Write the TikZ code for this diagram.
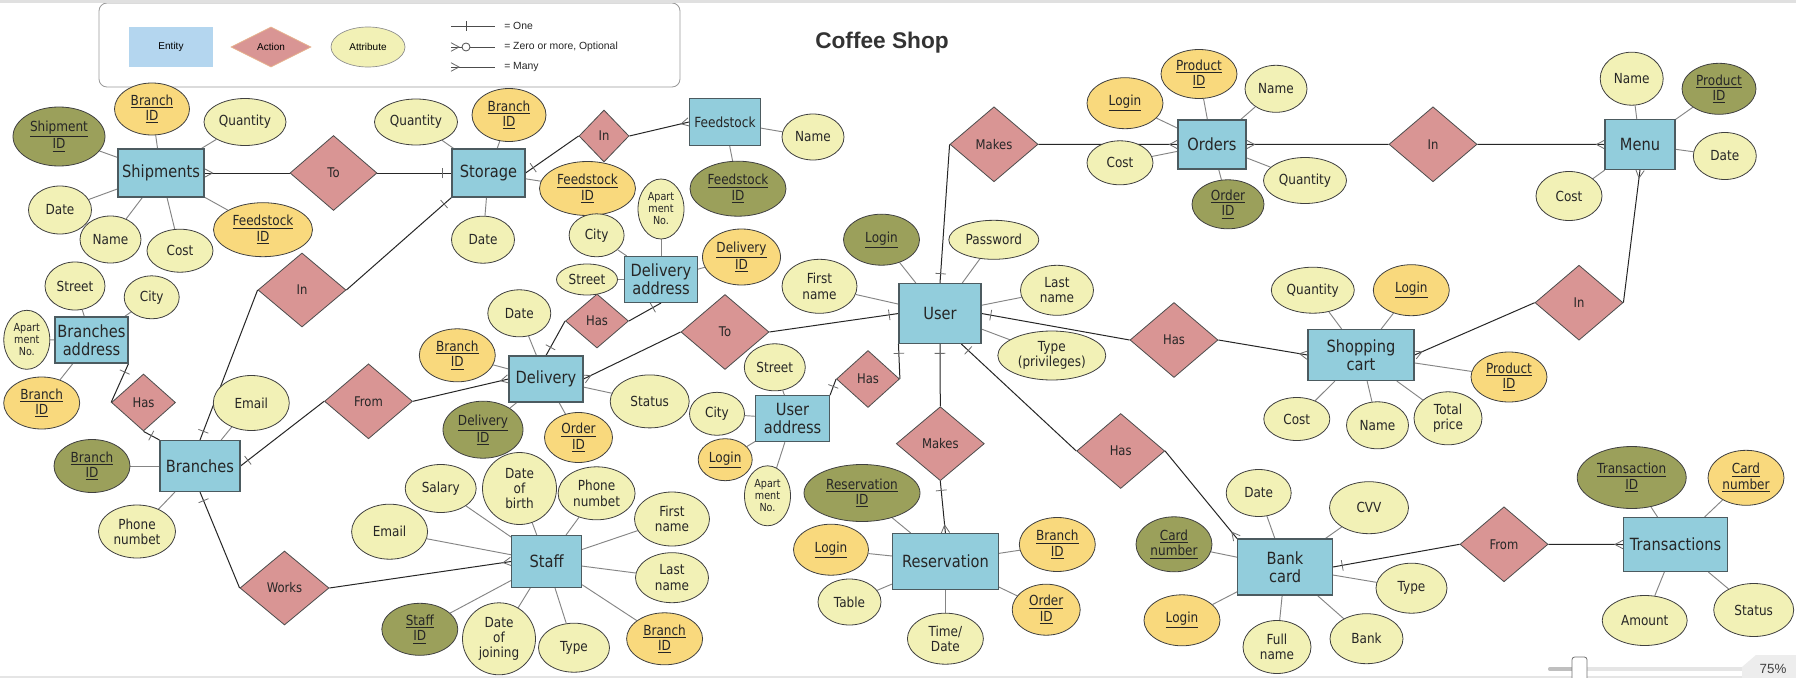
\documentclass[tikz,border=0pt]{standalone}
\usepackage{fontspec}
\setmainfont{DejaVu Sans}[FakeStretch=0.87]
\newfontfamily\arialfont{Liberation Sans}
\usepackage{tikz}
\usetikzlibrary{shapes.geometric,arrows.meta,positioning,calc,backgrounds,decorations.markings}
\definecolor{entityblue}{HTML}{92CDDC}
\definecolor{legendblue}{HTML}{B4D6EF}
\definecolor{actionred}{HTML}{D99594}
\definecolor{attrcream}{HTML}{F2F1B6}
\definecolor{keygold}{HTML}{F9D97D}
\definecolor{pkolive}{HTML}{9BA05B}
\definecolor{bordergrey}{HTML}{4C5B60}
\definecolor{linegrey}{HTML}{858585}
\definecolor{markgrey}{HTML}{6A6A6A}
\definecolor{titlegrey}{HTML}{333333}
\newcommand{\keyline}[1]{\underline{#1}}

\begin{document}
\begin{tikzpicture}[x=0.75pt, y=-0.75pt,
    sz/.style 2 args={minimum width=#1*0.75pt, minimum height=#2*0.75pt},
    entity/.style={rectangle, draw=bordergrey, line width=0.8pt, fill=entityblue, align=center,
                   inner sep=0pt, font=\fontsize{12.6}{13.5}\selectfont, text=black!85},
    action/.style={diamond, draw=black!70, line width=0.6pt, fill=actionred, inner sep=0pt,
                   font=\fontsize{10}{11.5}\selectfont, text=black!85},
    attr/.style={ellipse, draw=black!75, line width=0.6pt, fill=attrcream, align=center,
                 inner sep=0pt, font=\fontsize{10.4}{11.5}\selectfont, text=black!85},
    fkey/.style={attr, fill=keygold},
    pkey/.style={attr, fill=pkolive},
    aptfont/.style={font=\fontsize{8.3}{9}\selectfont},
    relline/.style={draw=black!85, line width=0.75pt},
    attrline/.style={draw=linegrey, line width=0.7pt},
    tipline/.style={draw=markgrey, line width=0.6pt},
    tick start/.style={postaction={decorate, decoration={markings,
        mark=at position 0 with {\draw[tipline] (7pt,-4pt) -- (7pt,4pt);}}}},
    tick end/.style={postaction={decorate, decoration={markings,
        mark=at position 1 with {\draw[tipline] (-7pt,-4pt) -- (-7pt,4pt);}}}},
    crow start/.style={postaction={decorate, decoration={markings,
        mark=at position 0 with {\draw[tipline] (0,-3.2pt) -- (6pt,0) -- (0,3.2pt);}}}},
    crow end/.style={postaction={decorate, decoration={markings,
        mark=at position 1 with {\draw[tipline] (0,-3.2pt) -- (-6pt,0) -- (0,3.2pt);}}}},
    legendtext/.style={font=\arialfont\fontsize{7.8}{9}\selectfont, text=black!85, anchor=west, inner sep=0pt},
    legendline/.style={draw=black!70, line width=0.6pt}
]
    \useasboundingbox (0,0) rectangle (1796,678);

    % legend and title
    \draw[draw=black!40, line width=0.6pt, rounded corners=6pt] (99,3) rectangle (680,87);
    \node[fill=legendblue, sz={84}{40}, inner sep=0pt, font=\arialfont\fontsize{7.5}{9}\selectfont] (keyEntity) at (171,47) {Entity};
    \node[diamond, fill=actionred, draw=actionred!60!keygold, line width=0.6pt, sz={80}{40}, inner sep=0pt, font=\arialfont\fontsize{7.5}{9}\selectfont] (keyAction) at (271,47) {Action};
    \node[ellipse, fill=attrcream, draw=black!45, line width=0.5pt, sz={74}{40}, inner sep=0pt, font=\arialfont\fontsize{7.5}{9}\selectfont] (keyAttr) at (368,47) {Attribute};
    \coordinate (oneA) at (451,26);
    \coordinate (oneB) at (495,26);
    \coordinate (zeroA) at (451,47);
    \coordinate (zeroB) at (495,47);
    \coordinate (manyA) at (451,67);
    \coordinate (manyB) at (495,67);
    \draw[legendline] (oneA) -- (oneB);
    \draw[legendline] (466,21) -- (466,31);
    \draw[legendline, crow start] (zeroA) -- (zeroB);
    \draw[legendline, fill=white] (466,47) circle (3pt);
    \draw[legendline, crow start] (manyA) -- (manyB);
    \node[legendtext] (lblOne) at (504,26) {= One};
    \node[legendtext] (lblZero) at (504,47) {= Zero or more, Optional};
    \node[legendtext] (lblMany) at (504,67) {= Many};
    \node[font=\arialfont\bfseries\fontsize{17}{20}\selectfont, text=titlegrey] (title) at (882,43) {Coffee Shop};

    % entities
    \node[entity, sz={86}{48}] (shipments) at (161,173) {Shipments};
    \node[entity, sz={73}{48}] (storage) at (488.5,173) {Storage};
    \node[entity, sz={71}{47}, font=\fontsize{10.5}{12}\selectfont] (feedstock) at (725,122) {Feedstock};
    \node[entity, sz={73}{46}] (deladdr) at (661,279.5) {Delivery\\address};
    \node[entity, sz={74}{46}] (delivery) at (546,379) {Delivery};
    \node[entity, sz={73}{46}] (braddr) at (91.5,340) {Branches\\address};
    \node[entity, sz={80}{51}] (branches) at (200,466) {Branches};
    \node[entity, sz={70}{52}] (staff) at (546.6,561.5) {Staff};
    \node[entity, sz={74}{46}] (uaddr) at (792.5,418.7) {User\\address};
    \node[entity, sz={82}{60}] (user) at (940,313.5) {User};
    \node[entity, sz={68}{49}] (orders) at (1212,144.5) {Orders};
    \node[entity, sz={70}{50}] (menu) at (1640,144.5) {Menu};
    \node[entity, sz={106}{51}] (cart) at (1361,355) {Shopping\\cart};
    \node[entity, sz={106}{56}] (reservation) at (945.4,561.5) {Reservation};
    \node[entity, sz={95}{56}] (bank) at (1285,567) {Bank\\card};
    \node[entity, sz={104}{54}] (trans) at (1675.5,544.5) {Transactions};

    % actions
    \node[action, sz={87}{75}] (toA) at (333.5,173) {To};
    \node[action, sz={50}{52}] (inA) at (604,136) {In};
    \node[action, sz={88}{74}] (inB) at (302,290) {In};
    \node[action, sz={64}{57}] (hasA) at (143.5,402.5) {Has};
    \node[action, sz={88}{75}] (fromA) at (368.5,401.3) {From};
    \node[action, sz={89}{74}] (works) at (284.5,588) {Works};
    \node[action, sz={63}{54}] (hasB) at (597,321) {Has};
    \node[action, sz={88}{75}] (toB) at (725,332) {To};
    \node[action, sz={63}{57}] (hasC) at (868,379) {Has};
    \node[action, sz={88}{75}] (makesA) at (994,144.3) {Makes};
    \node[action, sz={88}{75}] (inC) at (1433,144.3) {In};
    \node[action, sz={88}{75}] (hasD) at (1174,340) {Has};
    \node[action, sz={88}{75}] (inD) at (1579,302.7) {In};
    \node[action, sz={88}{74}] (makesB) at (940.3,443.7) {Makes};
    \node[action, sz={88}{75}] (hasE) at (1120.7,451) {Has};
    \node[action, sz={88}{75}] (fromB) at (1504,544.3) {From};

    % attributes of shipments
    \node[pkey, sz={92}{59}] (shipID) at (59,136.5) {\keyline{Shipment}\\\keyline{ID}};
    \node[fkey, sz={75}{52}] (shipBranch) at (152,109) {\keyline{Branch}\\\keyline{ID}};
    \node[attr, sz={82}{47}] (shipQty) at (245,122) {Quantity};
    \node[attr, sz={63}{48}] (shipDate) at (60,210) {Date};
    \node[attr, sz={61}{47}] (shipName) at (110.5,239.5) {Name};
    \node[attr, sz={66}{43}] (shipCost) at (180,250.7) {Cost};
    \node[fkey, sz={99}{54}] (shipFeed) at (263,229.7) {\keyline{Feedstock}\\\keyline{ID}};
    % attributes of storage and feedstock
    \node[attr, sz={83}{46}] (stQty) at (416,122) {Quantity};
    \node[fkey, sz={74}{53}] (stBranch) at (509,115) {\keyline{Branch}\\\keyline{ID}};
    \node[attr, sz={63}{47}] (stDate) at (483,239.7) {Date};
    \node[fkey, sz={96}{54}] (stFeed) at (587.5,188.5) {\keyline{Feedstock}\\\keyline{ID}};
    \node[attr, sz={62}{46}] (fsName) at (813,137) {Name};
    \node[pkey, sz={96}{55}] (fsID) at (738,188.7) {\keyline{Feedstock}\\\keyline{ID}};
    % attributes of delivery address and delivery
    \node[attr, aptfont, sz={46}{60}] (daApt) at (661,209) {Apart\\ment\\No.};
    \node[attr, sz={55}{43}] (daCity) at (596.6,235.3) {City};
    \node[attr, sz={61}{31}] (daStreet) at (587,279.5) {Street};
    \node[fkey, sz={78}{56}] (daDelID) at (741.5,257) {\keyline{Delivery}\\\keyline{ID}};
    \node[attr, sz={63}{47}] (dlDate) at (519.3,313.3) {Date};
    \node[fkey, sz={76}{53}] (dlBranch) at (457.3,355.3) {\keyline{Branch}\\\keyline{ID}};
    \node[pkey, sz={80}{57}] (dlID) at (483,429.7) {\keyline{Delivery}\\\keyline{ID}};
    \node[fkey, sz={68}{50}] (dlOrder) at (578.5,437.5) {\keyline{Order}\\\keyline{ID}};
    \node[attr, sz={79}{53}] (dlStatus) at (649.7,401.4) {Status};
    % attributes of branches address and branches
    \node[attr, sz={60}{48}] (baStreet) at (75,286) {Street};
    \node[attr, sz={55}{43}] (baCity) at (151.7,297.3) {City};
    \node[attr, aptfont, sz={46}{59}] (baApt) at (26.8,339.8) {Apart\\ment\\No.};
    \node[fkey, sz={76}{52}] (baBranch) at (41.7,403) {\keyline{Branch}\\\keyline{ID}};
    \node[pkey, sz={76}{53}] (brID) at (92,466) {\keyline{Branch}\\\keyline{ID}};
    \node[attr, sz={76}{55}] (brEmail) at (251.3,403) {Email};
    \node[attr, sz={77}{53}] (brPhone) at (137,531.5) {Phone\\numbet};
    % attributes of staff
    \node[attr, sz={71}{48}] (sfSalary) at (440.7,488.5) {Salary};
    \node[attr, sz={76}{55}] (sfEmail) at (389.6,531.7) {Email};
    \node[attr, sz={74}{72}] (sfBirth) at (519.5,488.5) {Date\\of\\birth};
    \node[attr, sz={77}{53}] (sfPhone) at (596.6,493.3) {Phone\\numbet};
    \node[attr, sz={75}{54}] (sfFirst) at (672,519) {First\\name};
    \node[attr, sz={73}{50}] (sfLast) at (672,577.7) {Last\\name};
    \node[pkey, sz={76}{52}] (sfID) at (419.8,629.3) {\keyline{Staff}\\\keyline{ID}};
    \node[attr, sz={73}{72}] (sfJoin) at (499,638.8) {Date\\of\\joining};
    \node[attr, sz={71}{49}] (sfType) at (574,647.7) {Type};
    \node[fkey, sz={76}{52}] (sfBranch) at (664.6,638.8) {\keyline{Branch}\\\keyline{ID}};
    % attributes of user address and user
    \node[attr, sz={55}{43}] (uaCity) at (717,413.8) {City};
    \node[attr, sz={61}{47}] (uaStreet) at (774.8,367.3) {Street};
    \node[fkey, sz={54}{42}] (uaLogin) at (725.2,459.7) {\keyline{Login}};
    \node[attr, aptfont, sz={46}{60}] (uaApt) at (767.5,495.8) {Apart\\ment\\No.};
    \node[pkey, sz={76}{51}] (usLogin) at (881.5,239.7) {\keyline{Login}};
    \node[attr, sz={90}{39}] (usPass) at (993.8,239.8) {Password};
    \node[attr, sz={75}{54}] (usFirst) at (819.5,286.3) {First\\name};
    \node[attr, sz={73}{50}] (usLast) at (1057,290.3) {Last\\name};
    \node[attr, sz={108}{49}] (usType) at (1051.8,355.5) {Type\\(privileges)};
    % attributes of orders and menu
    \node[fkey, sz={76}{51}] (orLogin) at (1125,103.2) {\keyline{Login}};
    \node[fkey, sz={76}{49}] (orProduct) at (1199,74) {\keyline{Product}\\\keyline{ID}};
    \node[attr, sz={62}{47}] (orName) at (1276,88.8) {Name};
    \node[attr, sz={66}{44}] (orCost) at (1120,162.8) {Cost};
    \node[pkey, sz={72}{49}] (orID) at (1228,204.3) {\keyline{Order}\\\keyline{ID}};
    \node[attr, sz={83}{46}] (orQty) at (1305,180.5) {Quantity};
    \node[attr, sz={63}{53}] (mnName) at (1631.7,78.7) {Name};
    \node[pkey, sz={74}{51}] (mnProduct) at (1719,88.8) {\keyline{Product}\\\keyline{ID}};
    \node[attr, sz={63}{47}] (mnDate) at (1724.8,156) {Date};
    \node[attr, sz={66}{49}] (mnCost) at (1569,196) {Cost};
    % attributes of shopping cart
    \node[attr, sz={83}{46}] (scQty) at (1312.8,290.2) {Quantity};
    \node[fkey, sz={76}{51}] (scLogin) at (1411.3,290.2) {\keyline{Login}};
    \node[fkey, sz={76}{50}] (scProduct) at (1509,377) {\keyline{Product}\\\keyline{ID}};
    \node[attr, sz={66}{43}] (scCost) at (1296.8,419) {Cost};
    \node[attr, sz={62}{47}] (scName) at (1377.5,425.3) {Name};
    \node[attr, sz={68}{53}] (scTotal) at (1448,418.3) {Total\\price};
    % attributes of reservation
    \node[pkey, sz={116}{57}] (rsID) at (862,493) {\keyline{Reservation}\\\keyline{ID}};
    \node[fkey, sz={75}{51}] (rsLogin) at (831,549.7) {\keyline{Login}};
    \node[attr, sz={63}{46}] (rsTable) at (849.5,602) {Table};
    \node[attr, sz={76}{51}] (rsTime) at (945.4,638.7) {Time/\\Date};
    \node[fkey, sz={76}{54}] (rsBranch) at (1057.3,544.5) {\keyline{Branch}\\\keyline{ID}};
    \node[fkey, sz={68}{51}] (rsOrder) at (1046.2,609.7) {\keyline{Order}\\\keyline{ID}};
    % attributes of bank card and transactions
    \node[attr, sz={65}{47}] (bcDate) at (1258.7,493) {Date};
    \node[pkey, sz={76}{55}] (bcCard) at (1174,544.3) {\keyline{Card}\\\keyline{number}};
    \node[fkey, sz={76}{51}] (bcLogin) at (1182,620.3) {\keyline{Login}};
    \node[attr, sz={68}{53}] (bcFull) at (1277,647) {Full\\name};
    \node[attr, sz={79}{52}] (bcCVV) at (1369,507.7) {CVV};
    \node[attr, sz={71}{50}] (bcType) at (1411.5,588.2) {Type};
    \node[attr, sz={73}{50}] (bcBank) at (1366.5,638.7) {Bank};
    \node[pkey, sz={109}{62}] (trID) at (1631.7,477.5) {\keyline{Transaction}\\\keyline{ID}};
    \node[fkey, sz={76}{55}] (trCard) at (1746,477.8) {\keyline{Card}\\\keyline{number}};
    \node[attr, sz={85}{50}] (trAmount) at (1644.7,620.5) {Amount};
    \node[attr, sz={80}{53}] (trStatus) at (1753.7,610) {Status};

    % zoom control of the screenshot
    \fill[black!12] (0,0) rectangle (1796,2.5);
    \fill[black!10] (0,676) rectangle (1796,678);
    \draw[line width=3pt, black!10, line cap=round] (1550,669) -- (1745,669);
    \draw[line width=3pt, black!25, line cap=round] (1550,669) -- (1576,669);
    \draw[fill=white, draw=black!55, line width=0.6pt, rounded corners=2pt] (1572,657) rectangle (1587,684);
    \fill[black!7] (1796,655) -- (1756,655) -- (1742,667) -- (1742,680) -- (1796,680) -- cycle;
    \node[font=\arialfont\fontsize{10}{12}\selectfont, text=black!75] (zoomlbl) at (1773,669) {75\%};

    \begin{scope}[on background layer]
        \fill[white] (0,0) rectangle (1796,678);
        % relationships
        \draw[relline, crow start] (shipments.east) -- (toA.west);
        \draw[relline, tick end] (toA.east) -- (storage.west);
        \draw[relline, tick start] (storage.east) -- (inA.west);
        \draw[relline, crow end] (inA.east) -- (feedstock.west);
        \draw[relline, tick start] (branches.north) -- (inB.west);
        \draw[relline, tick end] (inB.east) -- (storage.south west);
        \draw[relline, tick start] (braddr.south east) -- (hasA.west);
        \draw[relline, tick end] (hasA.south) -- (branches.north west);
        \draw[relline, tick start] (branches.east) -- (fromA.west);
        \draw[relline, crow end] (fromA.east) -- (delivery.west);
        \draw[relline, tick start] (branches.south) -- (works.west);
        \draw[relline, crow end] (works.east) -- (staff.west);
        \draw[relline, tick start] (delivery.north) -- (hasB.west);
        \draw[relline, tick end] (hasB.east) -- (deladdr.south);
        \draw[relline, crow start] (delivery.east) -- (toB.west);
        \draw[relline, tick end] (toB.east) -- (user.west);
        \draw[relline, tick start] (uaddr.north east) -- (hasC.west);
        \draw[relline, tick end] (hasC.east) -- (user.south west);
        \draw[relline, tick start] (user.north) -- (makesA.west);
        \draw[relline, crow end] (makesA.east) -- (orders.west);
        \draw[relline, crow start] (orders.east) -- (inC.west);
        \draw[relline, crow end] (inC.east) -- (menu.west);
        \draw[relline, tick start] (user.east) -- (hasD.west);
        \draw[relline, crow end] (hasD.east) -- (cart.west);
        \draw[relline, crow start] (cart.east) -- (inD.west);
        \draw[relline, crow end] (inD.east) -- (menu.south);
        \draw[relline, tick start] (user.south) -- (makesB.north);
        \draw[relline, tick start, crow end] (makesB.south) -- (reservation.north);
        \draw[relline, tick start] (user.-55) -- (hasE.west);
        \draw[relline, crow end] (hasE.east) -- (bank.north west);
        \draw[relline, tick start] (bank.east) -- (fromB.west);
        \draw[relline, crow end] (fromB.east) -- (trans.west);
        % attribute links
        \draw[attrline] (shipments) -- (shipID);
        \draw[attrline] (shipments) -- (shipBranch);
        \draw[attrline] (shipments) -- (shipQty);
        \draw[attrline] (shipments) -- (shipDate);
        \draw[attrline] (shipments) -- (shipName);
        \draw[attrline] (shipments) -- (shipCost);
        \draw[attrline] (shipments) -- (shipFeed);
        \draw[attrline] (storage) -- (stQty);
        \draw[attrline] (storage) -- (stBranch);
        \draw[attrline] (storage) -- (stDate);
        \draw[attrline] (storage) -- (stFeed);
        \draw[attrline] (feedstock) -- (fsName);
        \draw[attrline] (feedstock) -- (fsID);
        \draw[attrline] (deladdr) -- (daApt);
        \draw[attrline] (deladdr) -- (daCity);
        \draw[attrline] (deladdr) -- (daStreet);
        \draw[attrline] (deladdr) -- (daDelID);
        \draw[attrline] (delivery) -- (dlDate);
        \draw[attrline] (delivery) -- (dlBranch);
        \draw[attrline] (delivery) -- (dlID);
        \draw[attrline] (delivery) -- (dlOrder);
        \draw[attrline] (delivery) -- (dlStatus);
        \draw[attrline] (braddr) -- (baStreet);
        \draw[attrline] (braddr) -- (baCity);
        \draw[attrline] (braddr) -- (baApt);
        \draw[attrline] (braddr) -- (baBranch);
        \draw[attrline] (branches) -- (brID);
        \draw[attrline] (branches) -- (brEmail);
        \draw[attrline] (branches) -- (brPhone);
        \draw[attrline] (staff) -- (sfSalary);
        \draw[attrline] (staff) -- (sfEmail);
        \draw[attrline] (staff) -- (sfBirth);
        \draw[attrline] (staff) -- (sfPhone);
        \draw[attrline] (staff) -- (sfFirst);
        \draw[attrline] (staff) -- (sfLast);
        \draw[attrline] (staff) -- (sfID);
        \draw[attrline] (staff) -- (sfJoin);
        \draw[attrline] (staff) -- (sfType);
        \draw[attrline] (staff) -- (sfBranch);
        \draw[attrline] (uaddr) -- (uaCity);
        \draw[attrline] (uaddr) -- (uaStreet);
        \draw[attrline] (uaddr) -- (uaLogin);
        \draw[attrline] (uaddr) -- (uaApt);
        \draw[attrline] (user) -- (usLogin);
        \draw[attrline] (user) -- (usPass);
        \draw[attrline] (user) -- (usFirst);
        \draw[attrline] (user) -- (usLast);
        \draw[attrline] (user) -- (usType);
        \draw[attrline] (orders) -- (orLogin);
        \draw[attrline] (orders) -- (orProduct);
        \draw[attrline] (orders) -- (orName);
        \draw[attrline] (orders) -- (orCost);
        \draw[attrline] (orders) -- (orID);
        \draw[attrline] (orders) -- (orQty);
        \draw[attrline] (menu) -- (mnName);
        \draw[attrline] (menu) -- (mnProduct);
        \draw[attrline] (menu) -- (mnDate);
        \draw[attrline] (menu) -- (mnCost);
        \draw[attrline] (cart) -- (scQty);
        \draw[attrline] (cart) -- (scLogin);
        \draw[attrline] (cart) -- (scProduct);
        \draw[attrline] (cart) -- (scCost);
        \draw[attrline] (cart) -- (scName);
        \draw[attrline] (cart) -- (scTotal);
        \draw[attrline] (reservation) -- (rsID);
        \draw[attrline] (reservation) -- (rsLogin);
        \draw[attrline] (reservation) -- (rsTable);
        \draw[attrline] (reservation) -- (rsTime);
        \draw[attrline] (reservation) -- (rsBranch);
        \draw[attrline] (reservation) -- (rsOrder);
        \draw[attrline] (bank) -- (bcDate);
        \draw[attrline] (bank) -- (bcCard);
        \draw[attrline] (bank) -- (bcLogin);
        \draw[attrline] (bank) -- (bcFull);
        \draw[attrline] (bank) -- (bcCVV);
        \draw[attrline] (bank) -- (bcType);
        \draw[attrline] (bank) -- (bcBank);
        \draw[attrline] (trans) -- (trID);
        \draw[attrline] (trans) -- (trCard);
        \draw[attrline] (trans) -- (trAmount);
        \draw[attrline] (trans) -- (trStatus);
    \end{scope}
\end{tikzpicture}
\end{document}
